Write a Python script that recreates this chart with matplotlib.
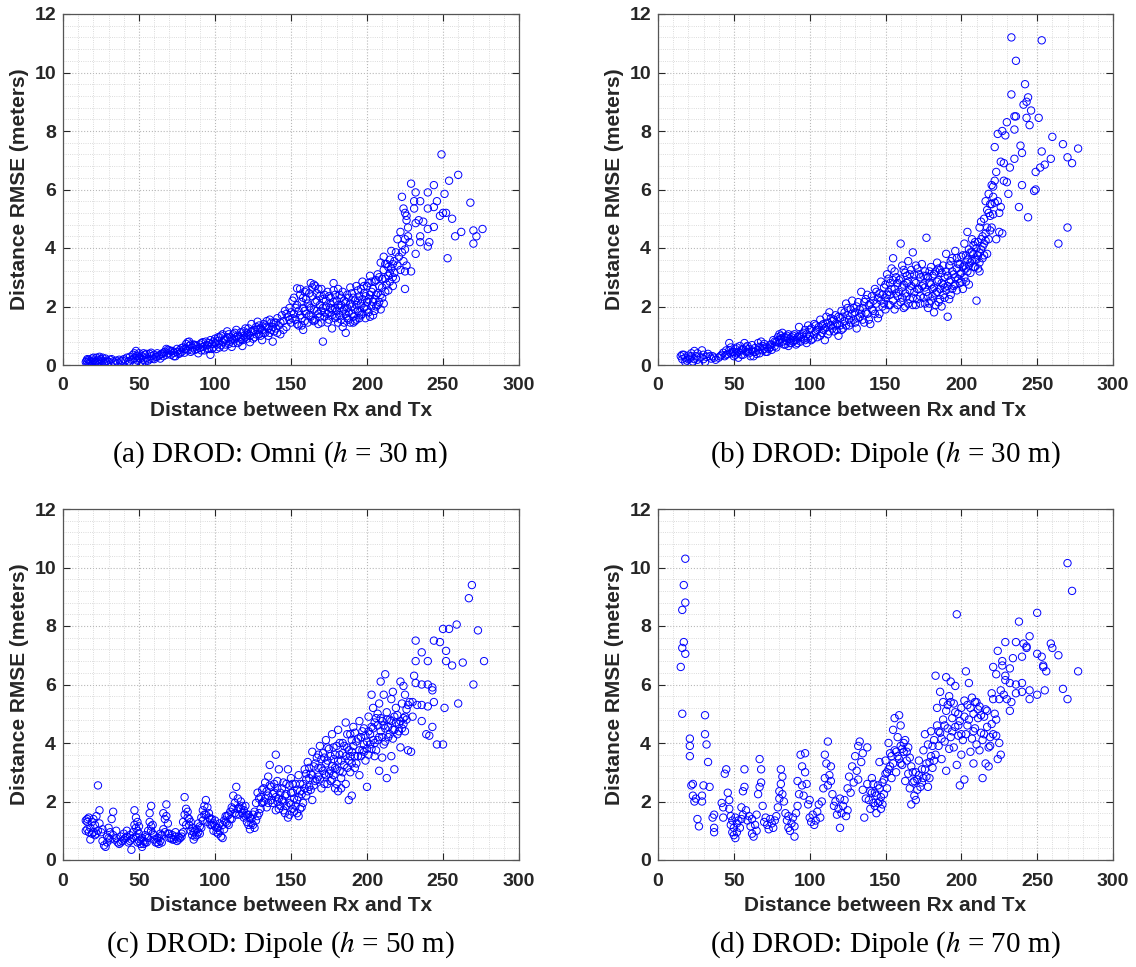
import matplotlib
matplotlib.use("Agg")
import matplotlib.pyplot as plt
from matplotlib.ticker import MultipleLocator

plt.rcParams['mathtext.fontset'] = 'stix'

# ---- data ----
pts_a = [(15,0.10),(15.5,0.15),(16,0.08),(17,0.05),(17,0.18),(18,0.12),(19,0.22),(19.5,0.10),(20,0.15),(21,0.08),
(22,0.25),(22,0.12),(23,0.18),(24,0.28),(24,0.05),(25,0.20),(26,0.12),(27,0.08),(28,0.22),(29,0.15),(30,0.10),
(31,0.18),(33,0.12),(35,0.15),(36,0.08),(38,0.12),(40,0.20),(41,0.15),(42,0.25),(43,0.12),(44,0.28),(45,0.18),
(46,0.35),(47,0.22),(48,0.48),(48,0.30),(49,0.15),(50,0.40),(50,0.25),(51,0.10),(52,0.05),(52,0.30),(53,0.18),
(54,0.35),(55,0.25),(56,0.15),(57,0.38),(58,0.30),(59,0.22),(60,0.35),(61,0.28),(62,0.40),(63,0.32),(64,0.22),
(65,0.38),(66,0.30),(67,0.45),(68,0.55),(69,0.40),(70,0.50),(71,0.35),(72,0.48),(73,0.42),(74,0.30),(75,0.45),
(76,0.38),(77,0.52),(78,0.45),(79,0.60),(80,0.55),(81,0.72),(82,0.50),(82,0.78),(83,0.65),(84,0.45),(85,0.60),
(86,0.70),(87,0.52),(88,0.65),(89,0.40),(90,0.58),(91,0.75),(92,0.62),(93,0.50),(94,0.80),(95,0.68),(96,0.55),
(97,0.35),(97,0.85),(98,0.72),(99,0.60),(100,0.90),(100,0.75),(101,0.55),(102,0.82),(103,0.95),(104,0.68),
(105,0.78),(105,1.05),(106,0.60),(107,0.88),(108,1.15),(109,0.72),(110,0.95),(110,0.80),(111,0.62),(112,1.05),
(113,0.88),(114,1.20),(115,0.75),(116,0.95),(117,1.12),(118,0.65),(118,0.85),(119,1.00),(120,1.25),(121,0.90),
(122,1.05),(123,0.78),(124,1.40),(125,1.15),(126,0.95),(127,1.30),(128,1.48),(129,1.05),(130,1.25),(131,0.85),
(132,1.40),(133,1.10),(134,1.30),(135,1.00),(136,1.55),(137,1.20),(138,0.80),(139,1.45),(140,1.25),(141,1.60),
(142,1.35),(143,1.05),(144,1.70),(145,1.50),(146,1.85),(147,1.30),(148,1.65),(149,1.95),(150,1.45),(151,2.20),
(152,1.75),(153,1.55),(154,2.62),(154,2.05),(155,1.35),(155,1.85),(156,2.40),(157,1.60),(157,2.15),(158,1.20),
(158,1.95),(159,2.50),(160,1.75),(160,2.25),(161,1.45),(162,2.00),(163,2.80),(163,1.65),(164,2.35),(165,1.90),
(165,2.75),(166,1.55),(166,2.15),(167,2.45),(168,1.75),(168,2.60),(169,2.05),(170,1.45),(170,1.85),(171,0.80),
(171,2.25),(172,1.65),(173,2.00),(174,1.45),(175,2.35),(175,1.80),(176,2.10),(177,1.25),(177,1.90),(178,2.80),
(178,2.55),(179,1.60),(180,2.20),(180,1.85),(181,1.45),(182,2.40),(182,1.70),(183,2.05),(184,1.30),(184,2.50),
(185,1.90),(186,1.10),(186,2.15),(187,1.60),(188,2.30),(188,1.80),(189,1.45),(190,2.00),(190,2.45),(191,1.65),
(192,2.20),(192,1.50),(193,2.70),(194,1.85),(195,2.35),(195,1.60),(196,2.10),(197,2.85),(197,1.75),(198,2.45),
(199,2.00),(200,2.70),(200,1.90),(201,2.25),(202,3.05),(202,1.65),(203,2.50),(204,2.15),(205,2.85),(205,1.85),
(206,2.40),(207,3.10),(207,2.05),(208,2.70),(209,3.50),(209,1.90),(210,2.95),(210,2.30),(211,3.70),(211,3.25),
(212,2.50),(213,3.45),(213,2.75),(214,3.05),(215,3.60),(215,2.85),(216,3.90),(216,3.30),(217,2.70),(218,3.55),
(218,3.15),(219,3.85),(219,2.95),(220,4.30),(220,3.40),(221,3.70),(222,4.55),(222,3.25),(223,3.85),(223,4.10),
(224,3.55),(225,3.95),(225,3.20),(226,3.40),(227,4.40),(228,4.20),
(223,5.75),(224,5.35),(225,5.20),(226,5.10),(226,4.95),(227,4.70),(225,4.30),(225,2.60),(229,3.20),(229,6.20),
(231,5.60),(231,5.35),(232,4.85),(232,5.90),(232,3.80),(234,4.95),(235,5.60),(235,4.40),(235,4.20),(237,4.90),
(240,5.35),(240,5.90),(240,4.65),(240,4.05),(241,4.20),(244,6.15),(244,5.40),(244,4.72),(246,5.60),(248,5.10),
(249,7.20),(250,5.20),(251,5.85),(252,5.20),(253,3.65),(254,6.30),(256,5.00),(258,4.40),(260,6.50),(262,4.55),
(268,5.55),(270,4.60),(270,4.15),(272,4.40),(276,4.65),
(16,0.20),(18,0.05),(20,0.25),(21,0.12),(23,0.08),(25,0.15),(26,0.25),(28,0.10),(32,0.20),(34,0.08),(37,0.18),
(39,0.15),(44,0.10),(46,0.20),(47,0.40),(49,0.32),(51,0.22),(53,0.40),(54,0.12),(55,0.38),(57,0.20),(58,0.42),
(60,0.20),(62,0.28),(64,0.35),(66,0.42),(68,0.35),(69,0.52),(71,0.48),(73,0.30),(75,0.55),(77,0.40),(78,0.58),
(80,0.42),(81,0.55),(83,0.80),(84,0.70),(85,0.50),(87,0.68),(88,0.55),(90,0.70),(91,0.50),(92,0.78),(93,0.65),
(95,0.55),(96,0.75),(98,0.55),(99,0.80),
(101,0.70),(102,0.95),(103,0.60),(104,1.00),(106,0.85),(107,0.70),(108,0.95),(109,1.05),(111,0.90),(112,0.75),
(113,1.10),(114,0.95),(115,1.00),(116,0.80),(117,0.90),(119,1.15),(120,0.95),(121,1.10),(122,1.25),(123,1.00),
(124,1.15),(125,0.90),(126,1.20),(127,1.05),(128,1.20),(129,1.35),(130,1.00),(131,1.20),(132,1.10),(133,1.35),
(134,1.50),(135,1.25),(136,1.10),(137,1.45),(138,1.30),(139,1.15),(140,1.45),
(141,1.10),(143,1.45),(145,1.20),(147,1.75),(149,1.55),(150,1.80),(151,1.60),(152,2.30),(153,1.95),(154,1.40),
(156,1.70),(156,2.60),(157,1.35),(158,2.30),(159,1.85),(159,1.50),(160,2.55),(161,2.10),(162,1.70),(162,2.45),
(163,1.95),(164,1.55),(164,2.65),(165,1.50),(166,2.70),(167,1.85),(167,2.20),(168,1.40),(169,2.35),(169,1.65),
(170,2.60),(171,1.95),(172,2.40),(172,1.80),(173,2.20),(174,1.75),(174,2.50),(175,1.55),(176,1.95),(176,2.30),
(177,1.70),(178,2.15),(179,1.95),(179,2.40),(180,1.65),(181,2.05),(181,2.60),(182,1.95),(183,1.55),(183,2.30),
(184,1.85),(185,2.20),(185,1.45),(186,1.75),(187,2.40),(187,1.95),(188,1.55),(189,2.10),(189,2.65),(190,1.75),
(191,2.30),(191,1.45),(192,1.90),(193,2.05),(193,1.55),(194,2.55),(194,2.20),(195,1.80),(196,2.60),(196,1.70),
(197,2.25),(198,1.95),(198,2.70),(199,1.60),(199,2.35),(200,2.15),(201,2.80),(201,1.80),(202,2.40),(203,2.00),
(203,2.85),(204,1.70),(204,2.60),(205,2.25),(206,2.00),(206,2.90),(207,2.45),(208,2.15),(208,3.00),(209,2.40),
(210,2.65),(211,2.10),(212,2.95),(212,3.45),(214,3.35),(214,2.55),(215,3.15),(217,3.45),(217,3.00)]

pts_b = [(15,0.30),(16,0.20),(17,0.35),(18,0.25),(19,0.15),(20,0.32),(21,0.22),(22,0.40),(23,0.12),(24,0.48),
(25,0.30),(26,0.18),(27,0.05),(28,0.25),(29,0.50),(30,0.35),(31,0.10),(32,0.28),(33,0.38),(35,0.22),(36,0.30),
(38,0.18),(40,0.25),(42,0.35),(43,0.42),(44,0.30),(45,0.50),(46,0.38),(47,0.75),(48,0.60),(49,0.45),(50,0.30),
(51,0.55),(52,0.40),(53,0.25),(54,0.65),(55,0.50),(56,0.35),(57,0.75),(58,0.60),(59,0.45),(60,0.55),(61,0.30),
(62,0.68),(63,0.45),(64,0.58),(65,0.38),(66,0.75),(67,0.62),(68,0.80),(69,0.50),(70,0.72),(71,0.45),(72,0.60),
(73,0.55),(74,0.70),(75,0.52),(76,0.85),(77,0.65),(78,0.78),(79,0.95),(80,1.05),(80,0.75),(81,0.90),(82,1.10),
(83,0.70),(84,0.95),(85,0.82),(86,1.05),(86,0.65),(87,0.90),(88,0.75),(89,1.00),(90,0.85),(91,0.70),(92,0.95),
(93,1.30),(94,0.80),(95,1.05),(96,0.90),(97,1.20),(98,0.75),(99,1.35),(100,1.00),(101,1.25),(102,0.90),(103,1.40),
(104,1.15),(105,0.95),(106,1.30),(107,1.55),(108,1.10),(109,1.40),(110,0.85),(110,1.25),(111,1.65),(112,1.05),
(113,1.80),(114,1.35),(115,1.50),(116,1.15),(117,1.70),(118,1.40),(119,1.00),(120,1.60),(121,1.85),(122,1.25),
(123,1.50),(124,2.10),(125,1.70),(126,1.35),(127,1.90),(128,2.20),(129,1.55),(130,1.80),(131,1.25),(132,2.15),
(133,1.65),(134,2.50),(135,1.95),(136,1.45),(137,2.25),(138,1.75),(139,2.05),(140,1.40),(141,2.35),(142,1.85),
(143,2.60),(144,2.10),(145,1.60),(146,2.45),(147,2.85),(148,2.00),(149,2.65),(150,1.90),(150,2.30),(151,3.10),
(152,2.50),(153,2.05),(153,2.80),(154,3.30),(155,3.65),(155,2.20),(156,1.90),(156,2.60),(157,3.00),(158,2.35),
(159,2.90),(160,4.15),(160,2.15),(161,3.40),(161,2.65),(162,1.95),(163,3.15),(163,2.45),(164,2.80),(165,3.55),
(165,2.10),(166,2.55),(167,3.25),(168,3.85),(168,2.30),(169,2.85),(170,3.40),(170,2.05),(171,2.60),(172,3.10),
(173,2.35),(174,3.45),(175,2.75),(176,2.10),(176,3.20),(177,4.35),(177,2.50),(178,3.00),(178,1.95),(179,2.80),
(180,3.35),(180,2.20),(181,2.60),(182,1.80),(182,3.10),(183,2.45),(184,3.50),(184,2.85),(185,2.15),(186,3.25),
(186,2.60),(187,2.00),(188,3.40),(188,2.75),(189,2.30),(190,3.80),(190,2.55),(191,1.65),(191,3.05),(192,2.85),
(193,3.55),(193,2.40),(194,3.20),(195,2.70),(196,3.90),(196,3.00),(197,2.55),(198,3.45),(199,2.80),(200,3.70),
(200,3.15),(201,2.60),(202,4.15),(202,3.40),(203,2.85),(203,3.75),(204,4.55),(204,3.20),(205,3.95),(205,2.75),
(206,3.50),(207,4.30),(207,3.85),(208,3.35),(209,4.20),(209,3.60),(210,2.20),(210,4.00),(211,3.30),(211,3.75),
(212,4.70),(212,3.20),(213,4.90),(213,3.95),(214,4.40),(214,3.65),(215,5.00),(215,4.15),(216,5.60),(216,4.50),
(217,3.80),(217,5.30),(218,4.30),(218,5.85),(219,5.10),(220,6.15),(220,5.50),(220,4.70),(221,5.75),(222,6.30),
(222,7.45),(222,5.55),(223,6.60),(223,4.30),(224,7.90),(224,5.60),(225,5.20),(225,4.55),(226,6.95),(226,5.40),
(227,4.50),(227,8.00),(228,6.30),(228,6.90),(229,7.85),(230,6.25),(230,8.30),(231,5.85),(232,6.75),(233,11.20),
(233,9.25),(235,8.50),(235,7.05),(235,8.05),(236,10.40),(236,8.50),(238,5.40),(239,7.50),(240,7.25),(240,6.15),
(241,8.90),(242,9.60),(243,9.00),(243,8.45),(244,9.15),(244,5.05),(245,8.20),(246,8.70),(248,5.95),(249,6.00),
(249,6.60),(251,8.45),(252,6.75),(253,11.10),(253,7.30),(255,6.85),(259,7.05),(260,7.80),(264,4.15),(267,7.55),
(270,7.10),(270,4.70),(273,6.90),(277,7.40),
(16,0.35),(18,0.10),(20,0.20),(22,0.30),(24,0.20),(26,0.40),(30,0.20),(34,0.30),(37,0.25),(41,0.30),(45,0.35),
(47,0.50),(48,0.40),(50,0.45),(51,0.35),(52,0.60),(53,0.45),(55,0.35),(56,0.55),(58,0.45),(59,0.65),(60,0.40),
(62,0.50),(63,0.30),(64,0.45),(66,0.50),(67,0.40),(69,0.65),(70,0.55),(72,0.45),(74,0.60),(75,0.70),(77,0.80),
(78,0.60),(80,0.85),(81,1.00),(82,0.80),(83,0.95),(84,0.70),(85,1.00),(87,0.75),(88,0.95),(89,0.80),(90,1.05),
(91,0.85),(92,0.75),(93,1.00),(94,0.95),(96,1.10),(97,0.85),(98,1.05),(99,0.90),
(100,1.20),(101,0.85),(103,1.05),(104,1.35),(105,1.20),(107,1.00),(108,1.35),(109,1.20),(111,1.30),(112,1.45),
(113,1.15),(114,1.60),(115,1.25),(116,1.55),(117,1.35),(118,1.20),(119,1.65),(120,1.35),(121,1.20),(122,1.65),
(123,1.80),(124,1.35),(125,1.95),(126,1.55),(127,1.45),(128,1.75),(129,1.95),(130,1.45),(131,2.00),(132,1.60),
(133,1.90),(134,1.75),(135,1.55),(136,2.15),(137,1.80),(138,2.40),(139,1.55),(140,2.10),(141,1.90),(142,2.20),
(143,1.75),(144,2.50),(145,2.30),(146,1.75),(147,2.20),(148,2.40),(149,2.10),(150,2.75),(151,2.40),(152,2.95),
(152,2.05),(153,2.40),(154,2.60),(155,2.90),(156,3.20),(157,2.45),(158,2.80),(158,2.05),(159,2.50),(160,2.95),
(161,2.30),(162,2.75),(162,3.25),(163,2.00),(164,3.05),(164,2.35),(165,2.85),(166,3.10),(166,2.25),(167,2.70),
(168,2.05),(169,3.10),(169,2.50),(170,2.80),(171,3.30),(171,2.25),(172,2.60),(173,3.00),(173,2.10),(174,2.70),
(175,3.05),(175,2.30),(176,2.65),(177,3.05),(178,2.35),(179,3.20),(179,2.10),(180,2.75),(181,3.05),(181,2.35),
(182,2.65),(183,3.20),(183,2.05),(184,2.50),(185,2.90),(185,3.30),(186,2.25),(187,2.80),(187,3.15),(188,2.40),
(189,3.00),(189,2.65),(190,3.20),(191,2.70),(192,3.40),(192,2.25),(193,2.90),(194,2.60),(194,3.65),(195,3.10),
(196,2.75),(197,3.30),(197,3.65),(198,2.95),(199,3.45),(199,3.10),(200,2.85),(201,3.35),(201,3.75),(202,3.00),
(203,3.30),(204,3.60),(205,3.40),(206,3.85),(206,3.15),(207,3.55),(208,3.80),(208,4.10),(209,3.35),(210,3.60),
(211,4.20),(212,3.50),(212,3.85),(213,4.30),(214,4.05),(215,3.75),(216,4.25),(217,4.70),(218,5.20),(219,4.60),
(219,5.50),(221,6.10),(221,5.15)]

pts_c = [(15,1.35),(15,1.00),(16,1.40),(16,1.30),(17,0.95),(17,1.45),(18,0.70),(18,1.10),(19,0.90),(20,1.40),
(21,0.85),(21,1.20),(22,1.50),(23,2.55),(23,1.00),(24,1.70),(24,1.25),(25,0.95),(26,1.05),(27,0.50),(28,0.45),
(29,0.60),(30,0.75),(30,1.10),(31,0.95),(32,1.40),(33,1.65),(33,0.85),(34,0.70),(35,1.00),(36,0.60),(37,0.55),
(38,0.80),(39,0.65),(40,0.90),(41,0.75),(42,1.00),(43,0.60),(44,0.85),(45,0.35),(45,0.70),(46,0.95),(47,1.20),
(47,1.70),(48,1.45),(48,0.80),(49,1.30),(49,1.00),(50,0.65),(50,1.15),(51,0.55),(52,0.45),(52,0.75),(53,0.55),
(54,0.60),(55,0.80),(56,1.00),(57,1.30),(57,1.60),(58,1.85),(58,1.15),(59,0.90),(60,0.70),(61,0.60),(62,0.75),
(63,0.55),(64,0.65),(65,0.85),(66,1.60),(67,0.95),(67,1.40),(68,1.90),(69,1.25),(70,0.90),(71,0.75),(72,0.85),
(73,0.70),(74,0.95),(75,0.65),(76,0.80),(77,0.75),(78,0.90),(79,1.30),(80,1.55),(80,2.15),(81,1.75),(82,1.45),
(83,1.20),(84,1.00),(85,0.85),(86,0.70),(87,0.80),(88,1.05),(89,1.25),(90,0.90),(91,1.45),(92,1.70),(93,1.85),
(94,2.05),(94,1.55),(95,1.30),(96,1.60),(97,1.40),(98,1.20),(99,1.00),(100,1.35),(101,1.10),(102,0.90),(103,1.25),
(104,0.80),(105,0.75),(106,1.05),(107,1.30),(108,1.50),(109,1.20),(110,1.65),(111,1.40),(112,2.20),(112,1.75),
(113,1.95),(114,2.50),(114,1.55),(115,2.10),(116,1.80),(117,2.00),(118,1.60),(119,1.45),(120,1.85),(121,1.30),
(122,1.55),(123,1.05),(124,1.40),(125,1.20),(126,1.65),(127,1.95),(128,2.30),(128,1.50),(129,2.10),(130,1.75),
(131,2.40),(132,2.00),(133,2.65),(134,1.80),(135,2.85),(135,2.20),(136,3.25),(137,2.50),(138,1.95),(139,2.30),
(140,3.60),(140,1.70),(141,2.70),(142,3.10),(142,2.10),(143,1.85),(144,2.45),(145,2.00),(146,1.60),(147,2.25),
(148,1.45),(148,3.10),(149,2.55),(150,1.90),(150,2.80),(151,2.30),(152,1.65),(153,2.60),(154,2.05),(155,1.50),
(155,2.90),(156,2.35),(157,1.80),(158,2.60),(159,3.10),(160,2.20),(160,2.75),(161,3.35),(162,2.50),(163,2.95),
(164,3.70),(164,2.05),(165,3.20),(166,2.70),(167,3.50),(168,2.85),(169,3.90),(170,3.15),(170,2.45),(171,3.65),
(172,2.95),(173,4.10),(173,3.30),(174,2.60),(175,3.80),(176,3.05),(177,4.30),(177,2.75),(178,3.45),(179,2.45),
(180,3.90),(180,3.10),(181,4.45),(181,2.35),(182,3.60),(183,2.80),(184,4.00),(185,3.25),(186,4.70),(186,2.60),
(187,3.85),(188,2.05),(188,3.40),(189,4.30),(189,3.00),(190,2.20),(190,3.70),(191,4.55),(192,3.15),(193,4.05),
(194,3.55),(195,4.75),(195,2.90),(196,4.20),(197,3.75),(198,4.50),(199,3.40),(200,2.50),(200,4.05),(201,4.90),
(201,3.60),(202,4.30),(203,5.65),(203,3.80),(204,5.20),(204,4.50),(205,3.55),(206,4.85),(207,4.10),(208,3.05),
(208,5.35),(209,6.10),(209,4.40),(210,3.50),(210,4.75),(211,5.65),(211,3.95),(212,6.35),(212,4.50),(213,2.80),
(213,5.05),(214,4.20),(215,4.80),(216,5.50),(216,3.55),(217,5.75),(217,4.45),(218,3.10),(218,4.90),(219,5.20),
(220,4.30),(221,4.65),(222,6.10),(222,3.85),(223,5.35),(224,5.95),(224,4.85),(225,5.65),(225,4.40),(226,5.15),
(227,3.75),(228,5.40),(229,3.70),(230,5.40),(230,4.90),(231,6.30),(232,7.50),(232,6.80),(232,6.05),(233,5.30),
(236,5.30),(236,6.00),(236,4.75),(236,7.10),(239,4.30),(240,6.80),(240,6.00),(240,5.25),(241,4.25),(243,5.90),
(243,5.80),(243,4.55),(244,7.50),(244,5.40),(246,3.95),(248,7.45),(250,7.90),(250,3.95),(251,5.20),(252,7.15),
(252,6.80),(254,7.90),(256,6.65),(259,8.05),(260,5.35),(263,6.75),(267,8.95),(269,9.40),(270,6.00),(273,7.85),
(277,6.80),
(16,1.05),(19,1.30),(20,0.95),(22,0.90),(26,0.65),(29,0.80),(31,0.70),(35,0.75),(38,0.60),(40,0.70),(42,0.80),
(44,0.65),(46,0.75),(48,1.10),(49,0.60),(50,0.90),(51,0.70),(53,0.65),(54,0.85),(55,0.60),(56,0.75),(58,1.00),
(59,1.20),(60,0.85),(62,0.60),(63,0.75),(64,0.90),(65,0.60),(66,1.05),(68,1.50),(69,0.90),(70,0.75),(72,0.70),
(74,0.80),(76,0.70),(78,0.80),(79,0.95),(81,1.20),(82,1.65),(83,1.40),(84,1.30),(85,1.10),(86,0.95),(87,1.00),
(88,0.85),(89,0.95),(90,1.15),(91,1.10),(92,1.35),(93,1.55),(95,1.80),(96,1.45),(97,1.20),(98,1.40),(99,1.25),
(100,1.15),(101,0.95),(102,1.10),(103,1.00),(105,1.20),(106,1.35),(107,1.50),(108,1.25),(109,1.55),(110,1.40),
(111,1.80),(113,1.60),(115,1.75),(116,1.55),(117,1.75),(118,1.85),(119,1.70),(120,1.50),
(121,1.55),(122,1.20),(123,1.45),(124,1.25),(125,1.55),(126,1.10),(127,1.35),(129,1.60),(130,2.15),(131,1.95),
(132,2.45),(133,2.10),(134,2.35),(135,1.95),(136,2.55),(137,2.05),(138,2.25),(139,2.60),(140,2.15),(141,2.00),
(141,2.45),(142,1.75),(143,2.30),(144,2.05),(145,2.65),(145,1.70),(146,2.20),(147,1.85),(147,2.60),(149,1.95),
(149,1.55),(150,2.30),(151,1.75),(151,2.60),(152,2.10),(153,1.85),(154,2.40),(154,1.60),(155,2.15),(156,1.75),
(156,2.60),(157,2.25),(158,1.95),(159,2.45),(160,2.95),(161,2.35),(162,2.80),(162,3.15),(163,2.40),(164,2.90),
(165,2.55),(166,3.30),(167,2.75),(168,3.60),(168,3.15),(169,2.75),(170,3.45),(171,3.05),(172,3.50),(172,2.60),
(173,2.90),(174,3.40),(174,3.85),(175,2.95),(176,3.55),(176,2.70),(177,3.20),(178,3.85),(178,2.90),(179,3.60),
(179,3.15),(180,2.60),(181,3.40),(182,3.05),(182,4.00),(183,3.40),(183,2.45),(184,3.65),(184,3.00),(185,3.90),
(186,3.55),(187,3.15),(187,4.30),(188,3.75),(189,3.55),(190,4.10),(190,3.30),(191,3.90),(192,3.55),(192,4.35),
(193,3.30),(194,4.15),(195,3.75),(196,3.55),(197,4.40),(198,3.95),(198,3.70),(199,4.25),(200,3.80),(201,4.40),
(202,3.95),(203,4.55),(204,4.10),(205,4.70),(205,4.00),(206,3.75),(207,4.60),(207,5.00),(208,4.20),(209,4.85),
(210,4.20),(211,4.60),(212,4.05),(213,4.80),(214,4.55),(215,4.30),(216,4.75),(217,4.15),(218,4.45),(219,4.70),
(220,4.95),(221,4.40),(222,4.75),(223,4.50),(224,4.65),(225,4.90),(226,4.80),(227,5.30)]

pts_d = [(15,6.60),(16,5.00),(16,7.25),(16,8.55),(17,7.45),(17,9.40),(18,10.30),(18,8.80),(18,7.05),(21,4.15),
(21,3.90),(21,3.55),(22,2.55),(23,2.60),(23,2.20),(24,2.00),(25,2.10),(26,1.40),(27,1.15),(29,2.20),(29,2.00),
(30,2.55),(31,4.95),(31,4.30),(32,3.95),(33,3.35),(34,2.50),(36,1.45),(37,1.55),(37,1.10),(37,0.95),(42,1.95),
(43,1.80),(43,1.45),(44,2.95),(45,3.10),(46,2.30),(47,2.05),(47,1.75),(48,1.50),(48,1.20),(49,0.95),(49,1.35),
(50,1.10),(50,0.85),(51,1.45),(51,0.75),(52,1.25),(52,0.95),(53,1.35),(54,1.10),(55,1.80),(55,1.40),(56,2.35),
(56,1.55),(57,3.10),(57,2.50),(58,1.70),(59,1.35),(60,1.50),(61,1.15),(62,0.90),(62,1.40),(63,0.80),(64,1.20),
(65,1.00),(65,1.55),(66,2.25),(67,2.50),(67,3.45),(68,3.10),(68,2.65),(69,1.85),(70,1.30),(71,1.45),(72,1.20),
(73,1.05),(74,1.40),(75,1.25),(76,1.10),(77,1.35),(78,1.50),(79,1.80),(80,2.35),(80,2.10),(81,2.60),(81,3.10),
(82,2.85),(82,2.25),(83,2.00),(84,1.60),(85,1.35),(86,1.10),(86,1.50),(87,1.00),(88,1.25),(89,1.45),(90,0.80),
(90,1.15),(91,1.60),(92,1.85),(92,2.70),(93,2.25),(94,3.60),(95,3.20),(95,2.55),(96,2.20),(97,3.00),(97,3.65),
(98,2.60),(99,1.90),(100,1.45),(100,2.05),(101,1.30),(102,1.55),(103,1.20),(104,1.35),(105,1.65),(106,1.90),
(107,1.45),(108,2.00),(109,2.45),(110,3.60),(110,2.80),(111,3.30),(112,2.55),(112,4.05),(113,2.90),(114,3.20),
(114,2.70),(115,2.25),(116,1.85),(117,2.00),(118,1.55),(119,1.75),(120,1.10),(120,2.10),(121,1.60),(122,1.85),
(123,2.05),(124,1.50),(125,2.45),(125,1.70),(126,2.85),(127,2.30),(128,3.20),(129,2.65),(130,3.55),(131,3.05),
(132,3.90),(132,2.75),(133,4.05),(134,3.35),(135,2.40),(135,3.65),(136,1.45),(137,2.10),(138,3.85),(138,2.60),
(139,2.05),(140,1.75),(140,2.35),(141,2.80),(142,1.95),(143,2.30),(144,1.60),(145,2.55),(146,3.35),(146,2.00),
(147,1.75),(148,2.65),(149,2.25),(150,2.95),(150,3.40),(151,2.45),(152,4.00),(152,3.10),(153,3.65),(154,2.80),
(155,4.45),(155,3.30),(156,4.85),(157,3.70),(157,3.00),(158,4.20),(159,4.95),(159,3.45),(160,4.60),(160,3.90),
(161,3.25),(162,3.70),(163,4.10),(163,2.70),(164,3.40),(165,2.95),(165,3.85),(166,2.45),(167,1.90),(167,3.20),
(168,2.65),(169,2.20),(170,3.00),(170,2.05),(171,2.75),(172,3.40),(173,2.50),(174,3.10),(175,3.75),(175,2.80),
(176,4.30),(177,3.30),(178,2.50),(178,3.95),(179,2.80),(180,3.55),(180,4.40),(181,3.15),(182,4.10),(183,6.30),
(183,3.60),(184,5.20),(184,4.60),(185,3.90),(186,5.75),(186,4.35),(187,3.45),(188,4.80),(188,5.40),(189,4.05),
(190,6.25),(190,3.05),(190,5.10),(191,4.50),(192,3.80),(192,5.60),(193,6.10),(193,4.20),(194,4.85),(195,5.35),
(195,3.85),(196,5.95),(196,4.55),(197,8.40),(197,3.25),(198,5.00),(198,4.25),(199,2.55),(199,4.75),(200,5.20),
(200,3.60),(201,4.10),(202,5.45),(202,2.75),(203,6.45),(203,4.30),(204,5.30),(205,6.05),(205,4.80),(206,3.70),
(207,5.55),(207,4.15),(208,3.30),(208,5.00),(209,4.50),(210,5.40),(210,3.95),(211,4.85),(212,3.75),(212,5.25),
(213,4.35),(214,2.80),(214,4.10),(215,4.90),(216,3.30),(216,5.15),(217,4.55),(218,3.85),(218,3.20),(219,4.20),
(220,5.70),(220,4.65),(221,6.60),(221,4.30),(222,5.00),(223,4.25),(223,6.35),(224,7.15),(224,3.45),(225,5.50),
(225,4.00),(226,5.80),(226,3.60),(227,6.80),(227,6.65),(228,5.65),(229,7.45),(229,6.30),(229,6.15),(230,5.50),
(232,6.55),(232,6.05),(232,5.10),(233,5.40),(234,6.90),(236,7.45),(236,6.00),(236,5.70),(238,8.15),(240,6.95),
(240,6.05),(240,5.75),(241,7.40),(243,7.30),(243,7.25),(245,7.65),(245,5.80),(245,5.50),(250,8.45),(250,7.05),
(250,5.65),(253,6.95),(254,6.65),(254,6.60),(255,5.80),(256,6.45),(259,7.40),(260,7.25),(264,7.00),(267,5.85),
(270,10.15),(270,5.50),(273,9.20),(277,6.45),
(141,2.30),(142,2.60),(143,1.85),(144,2.20),(145,1.95),(146,2.45),(147,2.15),(148,1.90),(149,2.75),(151,3.00),
(153,3.20),(154,3.55),(156,3.75),(158,3.55),(160,3.30),(161,3.80),(162,4.00),(164,3.70),(166,3.50),(168,3.00),
(169,2.70),(171,2.40),(172,2.90),(174,2.65),(176,3.10),(177,2.85),(179,3.35),(181,3.90),(182,3.40),(185,4.40),
(187,4.15),(189,4.60),(191,5.30),(193,5.40),(194,4.40),(196,5.05),(198,4.60),(200,4.30),(202,4.90),(204,4.60),
(206,5.20),(208,4.40),(209,5.40),(211,5.15),(213,4.95),(215,4.30),(217,5.10),(219,3.90),(221,5.50),(223,4.80)]

captions = ["(a) DROD: Omni ($h$ = 30 m)", "(b) DROD: Dipole ($h$ = 30 m)",
            "(c) DROD: Dipole ($h$ = 50 m)", "(d) DROD: Dipole ($h$ = 70 m)"]
xlabel = "Distance between Rx and Tx"
ylabel = "Distance RMSE (meters)"
x_ticks = [0, 50, 100, 150, 200, 250, 300]
y_ticks = [0, 2, 4, 6, 8, 10, 12]

# ---- figure ----
W, H = 1136, 967
fig = plt.figure(figsize=(W / 100, H / 100), dpi=100)

# axes boxes in pixels: (left, top, right, bottom)
boxes = [(63, 14, 519, 365), (658, 14, 1113, 365),
         (63, 509, 519, 860), (658, 509, 1113, 860)]
cap_pos = [(280, 455), (885, 455), (280, 945), (885, 945)]
all_pts = [pts_a, pts_b, pts_c, pts_d]

tick_color = '#262626'
for pts, box, cap, cp in zip(all_pts, boxes, captions, cap_pos):
    l, t, r, b = box
    ax = fig.add_axes([l / W, 1 - b / H, (r - l) / W, (b - t) / H])
    xs = [p[0] for p in pts]
    ys = [p[1] for p in pts]
    ax.scatter(xs, ys, s=28, facecolors='none', edgecolors='#0000ff', linewidths=0.7, zorder=3)
    ax.set_xlim(0, 300)
    ax.set_ylim(0, 12)
    ax.set_xticks(x_ticks)
    ax.set_yticks(y_ticks)
    ax.xaxis.set_minor_locator(MultipleLocator(10))
    ax.yaxis.set_minor_locator(MultipleLocator(0.4))
    ax.grid(which='major', linestyle=':', color='#b8b8b8', linewidth=0.8)
    ax.grid(which='minor', linestyle=':', color='#d0d0d0', linewidth=0.6)
    ax.set_axisbelow(True)
    ax.tick_params(which='major', direction='in', top=True, right=True, length=5,
                   width=0.8, color=tick_color, labelsize=14, labelcolor=tick_color)
    ax.tick_params(axis='x', which='major', pad=9)
    ax.tick_params(axis='y', which='major', pad=5)
    ax.tick_params(which='minor', direction='in', top=True, right=True, length=0)
    for lab in ax.get_xticklabels() + ax.get_yticklabels():
        lab.set_fontweight('bold')
        lab.set_family('Liberation Sans')
    for sp in ax.spines.values():
        sp.set_color('#555555')
        sp.set_linewidth(0.9)
    ax.set_xlabel(xlabel, fontsize=15, fontweight='bold', family='Liberation Sans',
                  color=tick_color, labelpad=5)
    ax.set_ylabel(ylabel, fontsize=15, fontweight='bold', family='Liberation Sans',
                  color=tick_color, labelpad=4)
    fig.text(cp[0] / W, 1 - cp[1] / H, cap, ha='center', va='center',
             fontsize=21, family='Liberation Serif', color='black')

fig.savefig('out.png', dpi=100)
